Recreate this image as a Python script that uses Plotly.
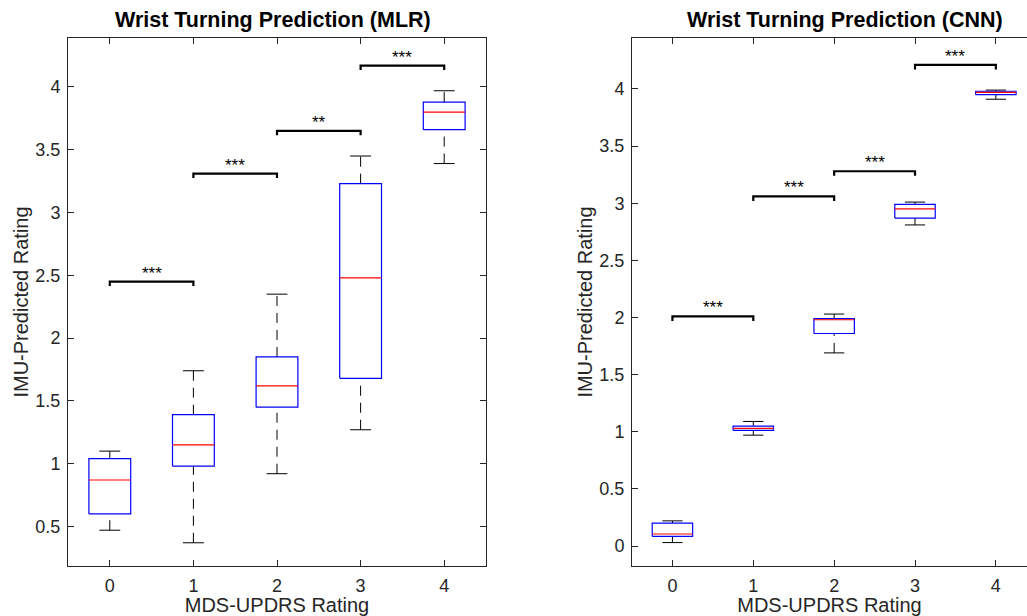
import plotly.graph_objects as go

categories = [0, 1, 2, 3, 4]
tick_labels = ["0", "1", "2", "3", "4"]

# MLR boxplot statistics
mlr_lower = [0.47, 0.37, 0.92, 1.27, 3.39]
mlr_q1 = [0.60, 0.98, 1.45, 1.68, 3.66]
mlr_median = [0.87, 1.15, 1.62, 2.48, 3.80]
mlr_q3 = [1.04, 1.39, 1.85, 3.23, 3.88]
mlr_upper = [1.10, 1.74, 2.35, 3.45, 3.97]

# CNN boxplot statistics
cnn_lower = [0.03, 0.97, 1.69, 2.81, 3.91]
cnn_q1 = [0.085, 1.012, 1.86, 2.87, 3.95]
cnn_median = [0.105, 1.03, 1.98, 2.95, 3.97]
cnn_q3 = [0.20, 1.05, 1.99, 2.99, 3.98]
cnn_upper = [0.22, 1.09, 2.03, 3.01, 3.99]

# significance brackets: (left category, right category, height, label)
mlr_sig_left = [0, 1, 2, 3]
mlr_sig_right = [1, 2, 3, 4]
mlr_sig_height = [2.45, 3.31, 3.65, 4.17]
mlr_sig_label = ["***", "***", "**", "***"]

cnn_sig_left = [0, 1, 2, 3]
cnn_sig_right = [1, 2, 3, 4]
cnn_sig_height = [2.01, 3.06, 3.28, 4.21]
cnn_sig_label = ["***", "***", "***", "***"]

BOX_HALF = 0.25
CAP_HALF = 0.125
AXC = "#262626"
FONT = "Liberation Sans"

fig = go.Figure()


def add_boxes(xa, ya, lo, q1, med, q3, up):
    bx, by, mx, my, wx, wy, cx, cy = [], [], [], [], [], [], [], []
    for c, l, a, m, b, u in zip(categories, lo, q1, med, q3, up):
        bx += [c - BOX_HALF, c + BOX_HALF, c + BOX_HALF, c - BOX_HALF, c - BOX_HALF, None]
        by += [a, a, b, b, a, None]
        mx += [c - BOX_HALF, c + BOX_HALF, None]
        my += [m, m, None]
        wx += [c, c, None, c, c, None]
        wy += [b, u, None, l, a, None]
        cx += [c - CAP_HALF, c + CAP_HALF, None, c - CAP_HALF, c + CAP_HALF, None]
        cy += [u, u, None, l, l, None]
    common = dict(xaxis=xa, yaxis=ya, mode="lines", hoverinfo="skip", showlegend=False)
    fig.add_trace(go.Scatter(x=wx, y=wy, line=dict(color="black", width=1, dash="10px,7px"), **common))
    fig.add_trace(go.Scatter(x=cx, y=cy, line=dict(color="black", width=1), **common))
    fig.add_trace(go.Scatter(x=bx, y=by, line=dict(color="#0000ff", width=1.2), **common))
    fig.add_trace(go.Scatter(x=mx, y=my, line=dict(color="#ff0000", width=1.2), **common))


def add_sig(xa, ya, left, right, height, labels, drop):
    sx, sy = [], []
    for a, b, h, t in zip(left, right, height, labels):
        sx += [a, a, b, b, None]
        sy += [h - drop, h, h, h - drop, None]
        fig.add_annotation(x=(a + b) / 2, y=h, xref=xa, yref=ya, text=t, showarrow=False,
                           xanchor="center", yanchor="bottom", yshift=-3,
                           font=dict(family=FONT, size=17, color="black"))
    fig.add_trace(go.Scatter(x=sx, y=sy, xaxis=xa, yaxis=ya, mode="lines", hoverinfo="skip",
                             showlegend=False, line=dict(color="black", width=2.2)))


add_boxes("x", "y", mlr_lower, mlr_q1, mlr_median, mlr_q3, mlr_upper)
add_sig("x", "y", mlr_sig_left, mlr_sig_right, mlr_sig_height, mlr_sig_label, 0.035)
add_boxes("x2", "y2", cnn_lower, cnn_q1, cnn_median, cnn_q3, cnn_upper)
add_sig("x2", "y2", cnn_sig_left, cnn_sig_right, cnn_sig_height, cnn_sig_label, 0.04)

tickfont = dict(family=FONT, size=18, color=AXC)
labfont = dict(family=FONT, size=20, color=AXC)
axis_common = dict(showline=True, linecolor=AXC, linewidth=1, ticks="inside", ticklen=6,
                   tickcolor=AXC, tickwidth=1, showgrid=False, zeroline=False, tickfont=tickfont)

ydom = [1 - 566 / 616, 1 - 38 / 616]
fig.update_layout(
    width=1027, height=616,
    margin=dict(l=0, r=0, t=0, b=0),
    paper_bgcolor="white", plot_bgcolor="white",
    xaxis=dict(domain=[68 / 1027, 486 / 1027], range=[-0.5, 4.5], tickvals=categories,
               ticktext=tick_labels, mirror="allticks", anchor="y", ticklabelstandoff=3,
               title=dict(text="MDS-UPDRS Rating", font=labfont, standoff=2), **axis_common),
    yaxis=dict(domain=ydom, range=[0.185, 4.39], dtick=0.5, mirror="allticks", anchor="x",
               ticklabelstandoff=3,
               title=dict(text="IMU-Predicted Rating", font=labfont, standoff=1), **axis_common),
    xaxis2=dict(domain=[632 / 1027, 1.0], range=[-0.5, 4.385], tickvals=categories,
                ticktext=tick_labels, mirror="allticks", anchor="y2", ticklabelstandoff=3,
                title=dict(text="MDS-UPDRS Rating", font=labfont, standoff=2), **axis_common),
    yaxis2=dict(domain=ydom, range=[-0.175, 4.446], dtick=0.5, mirror=False, anchor="x2",
                ticklabelstandoff=3,
                title=dict(text="IMU-Predicted Rating", font=labfont, standoff=1), **axis_common),
)

titlefont = dict(family=FONT, size=21.5, color="black")
fig.add_annotation(x=273 / 1027, y=1 - 20 / 616, xref="paper", yref="paper", showarrow=False,
                   xanchor="center", yanchor="middle",
                   text="<b>Wrist Turning Prediction (MLR)</b>", font=titlefont)
fig.add_annotation(x=845 / 1027, y=1 - 20 / 616, xref="paper", yref="paper", showarrow=False,
                   xanchor="center", yanchor="middle",
                   text="<b>Wrist Turning Prediction (CNN)</b>", font=titlefont)

fig.write_html(
    "out.html",
    config={"displayModeBar": False},
    post_script="document.body.style.margin='0';document.documentElement.style.overflow='hidden';",
)
